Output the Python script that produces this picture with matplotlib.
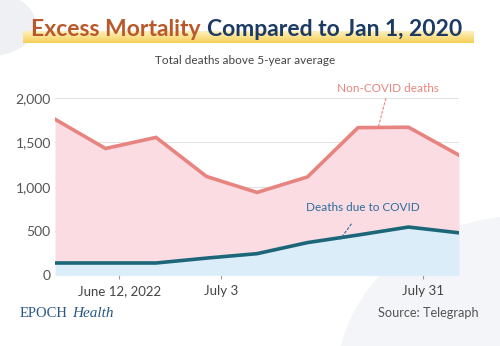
import matplotlib.pyplot as plt
import numpy as np
from matplotlib.patches import Circle, Ellipse
from matplotlib.colors import LinearSegmentedColormap

plt.rcParams['font.family'] = ['Lato', 'DejaVu Sans']

# weekly points, index 0..8
weeks = np.arange(9)
covid = [140, 140, 140, 195, 245, 370, 455, 545, 480]
total = [1760, 1430, 1555, 1115, 935, 1110, 1665, 1670, 1355]
non_covid = [t - c for t, c in zip(total, covid)]
tick_pos = [1.27, 3.29, 7.29]
tick_labels = ['June 12, 2022', 'July 3', 'July 31']
yticks = [0, 500, 1000, 1500, 2000]

fig = plt.figure(figsize=(5, 3.46), dpi=100)
fig.patch.set_facecolor('white')

# soft background shapes
fig.patches.append(Circle((-0.02, 0.93), 0.09, transform=fig.transFigure,
                          color='#eef0f4', zorder=-5))
fig.patches.append(Ellipse((1.05, -0.1), 0.75, 0.95, transform=fig.transFigure,
                           color='#f4f5f8', zorder=-5))

ax = fig.add_axes([0.11, 0.204, 0.808, 0.513])
ax.set_facecolor('none')
top = np.array(covid) + np.array(non_covid)
ax.fill_between(weeks, 0, covid, color='#dcedfa', lw=0, zorder=2)
ax.fill_between(weeks, covid, top, color='#fadce2', lw=0, zorder=2)
ax.plot(weeks, top, color='#e8847f', lw=2.6, zorder=3, solid_joinstyle='miter')
ax.plot(weeks, covid, color='#1c6679', lw=2.6, zorder=3, solid_joinstyle='miter')

ax.set_xlim(0, 8)
ax.set_ylim(0, 2000)
ax.set_yticks(yticks)
ax.set_yticklabels([f'{v:,}' for v in yticks], fontsize=10, color='#555555')
ax.set_xticks(tick_pos)
ax.set_xticklabels(tick_labels, fontsize=9.5, color='#444444')
ax.tick_params(axis='y', length=0, pad=3)
ax.tick_params(axis='x', length=3, color='#999999', pad=4)
ax.grid(axis='y', color='#e3e3e3', lw=0.8, zorder=1)
for s in ax.spines.values():
    s.set_visible(False)

# series labels with dashed leaders
ax.annotate('Non-COVID deaths', xy=(6.4, 1665), xytext=(6.6, 2040),
            ha='center', va='bottom', fontsize=8.5, color='#e8847f',
            arrowprops=dict(arrowstyle='-', ls=(0, (2, 2)), color='#e8847f', lw=0.8,
                            shrinkA=1, shrinkB=0), annotation_clip=False)
ax.annotate('Deaths due to COVID', xy=(5.65, 410), xytext=(6.1, 760),
            ha='center', va='center', fontsize=8.5, color='#2d6c9c',
            arrowprops=dict(arrowstyle='-', ls=(0, (2, 2)), color='#2d6c9c', lw=0.8,
                            shrinkA=7, shrinkB=0))

# title with yellow highlight strip
grad = np.linspace(0, 1, 50).reshape(-1, 1)
hl = fig.add_axes([0.046, 0.875, 0.9, 0.035])
hl.imshow(grad, aspect='auto', extent=[0, 1, 0, 1],
          cmap=LinearSegmentedColormap.from_list('hl', ['#fdf3c8', '#f5cf55']))
hl.axis('off')

t1 = fig.text(0.062, 0.915, 'Excess Mortality', fontsize=16.5, fontweight='bold',
              color='#b9582a', va='center', ha='left')
fig.canvas.draw()
bb = t1.get_window_extent().transformed(fig.transFigure.inverted())
fig.text(bb.x1 + 0.012, 0.915, 'Compared to Jan 1, 2020', fontsize=16.5,
         fontweight='bold', color='#1c3a63', va='center', ha='left')

fig.text(0.49, 0.825, 'Total deaths above 5-year average', fontsize=8.5,
         color='#444444', ha='center', va='center')

logo = fig.text(0.04, 0.095, 'EPOCH', fontsize=10.5, color='#2b5785',
                family='Liberation Serif', va='center', ha='left')
fig.canvas.draw()
lb = logo.get_window_extent().transformed(fig.transFigure.inverted())
fig.text(lb.x1 + 0.008, 0.095, 'Health', fontsize=11, color='#2b5785',
         family='Liberation Serif', style='italic', va='center', ha='left')
fig.text(0.958, 0.095, 'Source: Telegraph', fontsize=9.2, color='#555555',
         ha='right', va='center')

fig.savefig('out.png', dpi=100)
